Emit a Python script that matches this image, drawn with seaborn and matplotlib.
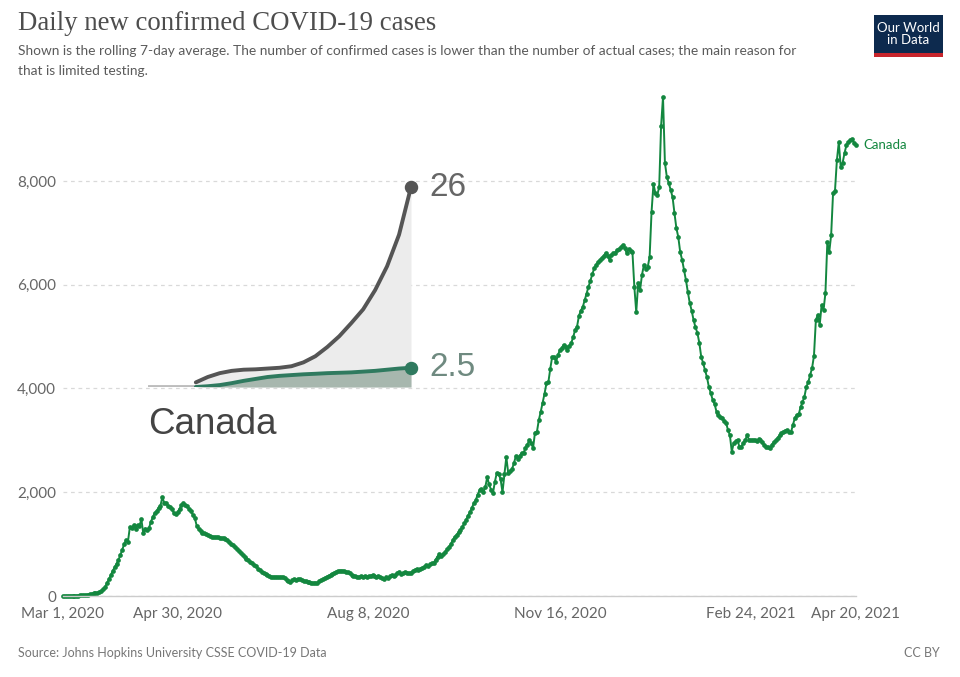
import numpy as np
import pandas as pd
import matplotlib
matplotlib.use("Agg")
import matplotlib.pyplot as plt
import seaborn as sns
from matplotlib.patches import Rectangle

# ---- daily values (rolling 7-day average), by month ----
mar_2020 = [0, 1, 1, 2, 3, 4, 5, 6, 8, 10, 12, 15, 20, 28, 35, 42, 50, 55, 62, 75,
            100, 130, 170, 250, 320, 400, 480, 550, 620, 690, 790]
apr_2020 = [890, 1000, 1080, 1050, 1330, 1320, 1360, 1300, 1370, 1350, 1480, 1210, 1300,
            1280, 1310, 1430, 1520, 1600, 1640, 1700, 1740, 1910, 1790, 1800, 1740, 1720,
            1680, 1600, 1590, 1620]
may_2020 = [1680, 1750, 1790, 1760, 1735, 1680, 1630, 1560, 1500, 1350, 1290, 1250, 1220,
            1210, 1190, 1170, 1160, 1140, 1140, 1130, 1130, 1120, 1120, 1110, 1090, 1080,
            1050, 1010, 980, 950, 910]
jun_2020 = [870, 830, 790, 750, 720, 690, 660, 630, 600, 570, 530, 500, 470, 440, 420, 400,
            380, 370, 370, 370, 370, 365, 370, 360, 340, 300, 280, 270, 310, 320]
jul_2020 = [300, 320, 330, 310, 290, 280, 270, 270, 260, 250, 260, 250, 280, 300, 330, 350,
            370, 390, 410, 430, 450, 470, 480, 490, 490, 480, 470, 460, 440, 410, 390]
aug_2020 = [380, 370, 370, 380, 360, 380, 370, 380, 390, 400, 380, 370, 390, 360, 350, 330,
            360, 350, 380, 400, 390, 410, 440, 470, 420, 440, 460, 450, 440, 450, 480]
sep_2020 = [500, 520, 500, 530, 540, 560, 600, 580, 610, 630, 640, 700, 760, 800, 770, 800,
            850, 900, 950, 1000, 1080, 1140, 1180, 1230, 1280, 1330, 1400, 1470, 1550, 1620]
oct_2020 = [1700, 1790, 1850, 1950, 2040, 2060, 2000, 2100, 2290, 2150, 2050, 1980, 2200,
            2370, 2350, 2250, 2000, 2350, 2680, 2370, 2400, 2450, 2560, 2700, 2650, 2700,
            2760, 2760, 2850, 2920, 3000]
nov_2020 = [2950, 2850, 3150, 3160, 3390, 3550, 3720, 3900, 4100, 4120, 4380, 4610, 4600,
            4510, 4640, 4740, 4780, 4840, 4800, 4740, 4820, 4880, 4990, 5130, 5190, 5400,
            5500, 5570, 5700, 5830]
dec_2020 = [5960, 6080, 6200, 6320, 6380, 6440, 6480, 6520, 6560, 6610, 6560, 6480, 6570,
            6610, 6620, 6670, 6690, 6730, 6770, 6700, 6610, 6690, 6660, 6630, 5960, 5470,
            6030, 5900, 6190, 6380, 6300]
jan_2021 = [6340, 6540, 7400, 7940, 7770, 7730, 7880, 9060, 9620, 8350, 8080, 7960, 7830,
            7690, 7380, 7090, 6920, 6630, 6480, 6280, 6090, 5860, 5650, 5500, 5320, 5180,
            5070, 4880, 4610, 4490, 4350]
feb_2021 = [4220, 4030, 3910, 3780, 3700, 3550, 3480, 3450, 3430, 3380, 3340, 3200, 3100,
            2780, 2950, 2980, 3010, 2870, 2880, 2950, 3000, 3100, 3010, 3000, 3010, 3010,
            2990, 3020]
mar_2021 = [3010, 2960, 2910, 2880, 2870, 2850, 2920, 2970, 3000, 3050, 3100, 3140, 3160,
            3190, 3200, 3160, 3160, 3300, 3430, 3490, 3500, 3640, 3740, 3840, 4030, 4120,
            4260, 4390, 4630, 5320, 5420]
apr_2021 = [5220, 5610, 5510, 5840, 6820, 6630, 6960, 7770, 7810, 8400, 8750, 8270, 8350,
            8540, 8690, 8750, 8790, 8810, 8730, 8690]

start_date = "2020-03-01"
country = "Canada"
x_tick_dates = ["2020-03-01", "2020-04-30", "2020-08-08", "2020-11-16", "2021-02-24", "2021-04-20"]
x_tick_labels = ["Mar 1, 2020", "Apr 30, 2020", "Aug 8, 2020", "Nov 16, 2020", "Feb 24, 2021", "Apr 20, 2021"]
y_ticks = [0, 2000, 4000, 6000, 8000]
y_tick_labels = ["0", "2,000", "4,000", "6,000", "8,000"]

# inset sparkline (overlaid picture in the reference)
inset_t = [4, 5, 6, 7, 8, 9, 10, 11, 12, 13, 14, 15, 16, 17, 18, 19, 20, 21, 22]
inset_top = [0.6, 1.3, 1.8, 2.1, 2.25, 2.3, 2.4, 2.5, 2.7, 3.2, 4.0, 5.2, 6.6, 8.3, 10.1,
             12.6, 15.7, 19.8, 26.0]
inset_bottom = [0.0, 0.1, 0.25, 0.5, 0.8, 1.05, 1.3, 1.45, 1.55, 1.65, 1.72, 1.8, 1.85, 1.9,
                2.0, 2.1, 2.25, 2.4, 2.5]
inset_top_label = "26"
inset_bottom_label = "2.5"

cases = (mar_2020 + apr_2020 + may_2020 + jun_2020 + jul_2020 + aug_2020 + sep_2020 +
         oct_2020 + nov_2020 + dec_2020 + jan_2021 + feb_2021 + mar_2021 + apr_2021)
dates = pd.date_range(start_date, periods=len(cases), freq="D")
df = pd.DataFrame({"date": dates, "cases": cases})

GREEN = "#13873f"
W, H = 960, 677

sns.set_theme(style="white")
plt.rcParams["font.family"] = ["Lato", "DejaVu Sans"]

fig = plt.figure(figsize=(W / 100, H / 100), dpi=100)
fig.patch.set_facecolor("white")

top_px = 92.8
ax = fig.add_axes([63 / W, 1 - 596 / H, (856 - 63) / W, (596 - top_px) / H])
ax.set_facecolor("none")
sns.lineplot(data=df, x="date", y="cases", ax=ax, color=GREEN, linewidth=1.4,
             marker="o", markersize=3.4, markeredgewidth=0, clip_on=False)
ax.set_xlim(dates[0], dates[-1])
ax.set_ylim(0, 9700)
ax.set_xlabel("")
ax.set_ylabel("")

ax.set_yticks(y_ticks)
ax.set_yticklabels(y_tick_labels)
ax.yaxis.grid(True, linestyle=(0, (3, 3)), color="#d9d9d9", linewidth=0.9)
ax.set_axisbelow(True)
ax.set_xticks(pd.to_datetime(x_tick_dates))
ax.set_xticklabels(x_tick_labels)
for s in ["top", "right", "left"]:
    ax.spines[s].set_visible(False)
ax.spines["bottom"].set_color("#cccccc")
ax.spines["bottom"].set_linewidth(1.0)
ax.tick_params(axis="y", length=0, pad=5, labelsize=11, labelcolor="#666666")
ax.tick_params(axis="x", length=5, width=1, color="#cccccc", pad=3, labelsize=11,
               labelcolor="#666666", direction="out")

ax.annotate(country, xy=(dates[-1], cases[-1]), xytext=(5, 0), textcoords="offset points",
            va="center", ha="left", fontsize=9.5, color=GREEN)

# ---- inset sparkline overlay ----
axi = fig.add_axes([148 / W, 1 - 387 / H, (411 - 148) / W, 200 / H])
axi.set_xlim(0, 22)
axi.set_ylim(0, 26)
axi.axis("off")
axi.axhline(0, color="#bdbdbd", linewidth=3.5, zorder=1)
axi.fill_between(inset_t, inset_top, 0, color="#ececec", linewidth=0, zorder=0)
axi.fill_between(inset_t, inset_bottom, 0, color="#a7b7ae", linewidth=0, zorder=1.5)
axi.plot(inset_t, inset_top, color="#555555", linewidth=2.8, solid_capstyle="round", zorder=3)
axi.plot(inset_t, inset_bottom, color="#2f7a5f", linewidth=2.8, solid_capstyle="round", zorder=3)
axi.scatter([inset_t[-1]], [inset_top[-1]], s=75, color="#555555", zorder=4, clip_on=False)
axi.scatter([inset_t[-1]], [inset_bottom[-1]], s=75, color="#2f7a5f", zorder=4, clip_on=False)
axi.annotate(inset_top_label, xy=(inset_t[-1], inset_top[-1]), xytext=(13, 0),
             textcoords="offset points", va="center", ha="left", fontsize=24,
             color="#666666", family=["Liberation Sans", "DejaVu Sans"], annotation_clip=False)
axi.annotate(inset_bottom_label, xy=(inset_t[-1], inset_bottom[-1]), xytext=(13, 0),
             textcoords="offset points", va="center", ha="left", fontsize=24,
             color="#6f8a80", family=["Liberation Sans", "DejaVu Sans"], annotation_clip=False)
fig.text(148 / W, 1 - 425 / H, country, fontsize=26.5, color="#444444", va="center", ha="left",
         family=["Liberation Sans", "DejaVu Sans"])

# ---- header / footer ----
fig.text(18 / W, 1 - 24 / H, "Daily new confirmed COVID-19 cases", fontsize=19.3,
         family=["Liberation Serif", "DejaVu Serif"], color="#4d4d4d", va="center", ha="left")
fig.text(18 / W, 1 - 51 / H,
         "Shown is the rolling 7-day average. The number of confirmed cases is lower than the number of actual cases; the main reason for",
         fontsize=9.9, color="#5b5b5b", va="center", ha="left")
fig.text(18 / W, 1 - 71 / H, "that is limited testing.", fontsize=9.9, color="#5b5b5b",
         va="center", ha="left")

fig.patches.append(Rectangle((874 / W, 1 - 53 / H), 69 / W, 38 / H, transform=fig.transFigure,
                             facecolor="#0d2a4e", edgecolor="none"))
fig.patches.append(Rectangle((874 / W, 1 - 57 / H), 69 / W, 4 / H, transform=fig.transFigure,
                             facecolor="#c8252c", edgecolor="none"))
fig.text(908.5 / W, 1 - 34 / H, "Our World\nin Data", fontsize=9.5, color="white", ha="center",
         va="center", linespacing=1.0)

fig.text(18 / W, 1 - 653 / H, "Source: Johns Hopkins University CSSE COVID-19 Data",
         fontsize=9, color="#777777", va="center", ha="left")
fig.text(940 / W, 1 - 653 / H, "CC BY", fontsize=9, color="#777777", va="center", ha="right")

fig.savefig("out.png", dpi=100, facecolor="white")
